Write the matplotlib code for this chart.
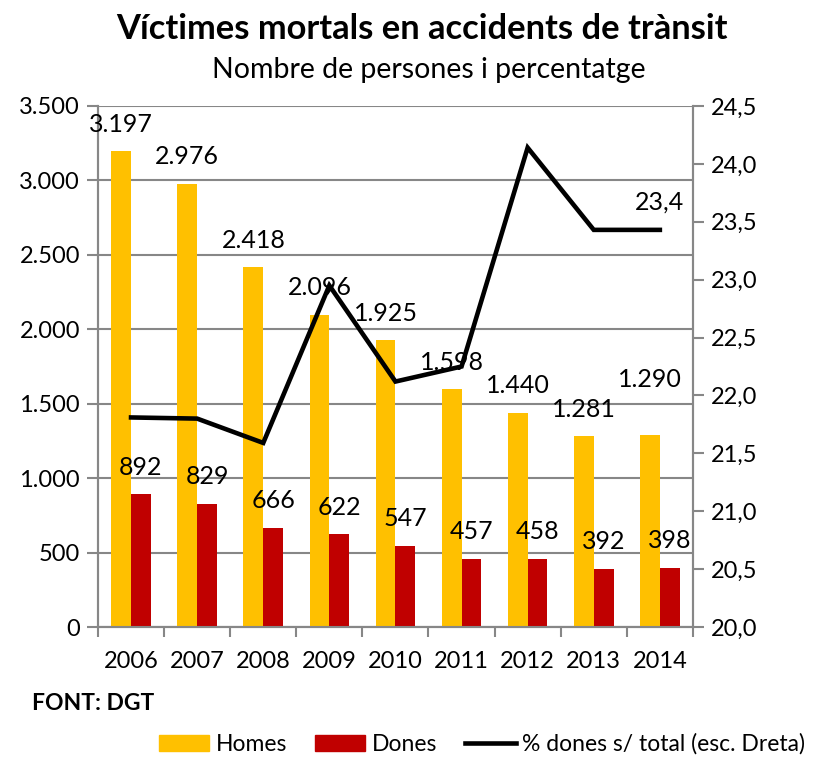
import matplotlib.pyplot as plt
from matplotlib.patches import Patch
from matplotlib.lines import Line2D
from matplotlib.ticker import FuncFormatter

plt.rcParams['font.family'] = ['Lato', 'DejaVu Sans']

years = ['2006', '2007', '2008', '2009', '2010', '2011', '2012', '2013', '2014']
homes = [3197, 2976, 2418, 2096, 1925, 1598, 1440, 1281, 1290]
dones = [892, 829, 666, 622, 547, 457, 458, 392, 398]
pct_dones = [21.81, 21.80, 21.59, 22.95, 22.12, 22.25, 24.14, 23.43, 23.43]
pct_label = '23,4'

col_homes = '#FFC000'
col_dones = '#C00000'
grid_col = '#878787'

fig = plt.figure(figsize=(8.2, 7.57), dpi=100)
ax = fig.add_axes([0.1195, 0.1717, 0.7255, 0.6883])
ax2 = ax.twinx()
ax.set_zorder(1)
ax.patch.set_visible(False)
ax2.set_zorder(0)

x = list(range(len(years)))
w = 0.3
ax.bar([i - w / 2 for i in x], homes, width=w, color=col_homes, zorder=2)
ax.bar([i + w / 2 for i in x], dones, width=w, color=col_dones, zorder=2)

ax.set_ylim(0, 3500)
ax.set_xlim(-0.5, len(years) - 0.5)
ax.set_yticks(range(0, 3501, 500))
ax.yaxis.set_major_formatter(FuncFormatter(lambda v, p: f'{int(v):,}'.replace(',', '.')))
ax.grid(axis='y', color=grid_col, linewidth=1.5, zorder=0)
ax.set_axisbelow(True)

# category ticks sit between groups, labels at centres
ax.set_xticks([i - 0.5 for i in range(len(years) + 1)])
ax.set_xticklabels([])
ax.set_xticks(x, minor=True)
ax.set_xticklabels(years, minor=True)
ax.tick_params(axis='x', which='major', length=7, width=1.5, color=grid_col)
ax.tick_params(axis='x', which='minor', length=0, pad=17, labelsize=17)
ax.tick_params(axis='y', length=8, width=1.5, color=grid_col, labelsize=17, pad=5)

for s in ['top']:
    ax.spines[s].set_visible(False)
    ax2.spines[s].set_visible(False)
for s in ['left', 'bottom', 'right']:
    ax.spines[s].set_color(grid_col)
    ax.spines[s].set_linewidth(1.5)
    ax2.spines[s].set_color(grid_col)
    ax2.spines[s].set_linewidth(1.5)

# right scale
ax2.set_ylim(20, 24.5)
ax2.set_yticks([20 + 0.5 * k for k in range(10)])
ax2.yaxis.set_major_formatter(FuncFormatter(lambda v, p: f'{v:.1f}'.replace('.', ',')))
ax2.tick_params(axis='y', length=8, width=1.5, color=grid_col, labelsize=17, pad=5)

# line drawn above the bars
line_ax = ax.twinx()
line_ax.set_zorder(3)
line_ax.set_ylim(20, 24.5)
line_ax.axis('off')
line_ax.plot(x, pct_dones, color='black', linewidth=3.3, solid_joinstyle='miter', zorder=5)

# value labels
for i, v in enumerate(homes):
    off = 55 if i == len(homes) - 1 else 27
    ax.annotate(f'{v:,}'.replace(',', '.'), (i - w / 2, v), xytext=(0, off),
                textcoords='offset pixels', ha='center', va='center', fontsize=18, zorder=6)
for i, v in enumerate(dones):
    ax.annotate(str(v), (i + w / 2, v), xytext=(0, 27), textcoords='offset pixels',
                ha='center', va='center', fontsize=18, zorder=6)
line_ax.annotate(pct_label, (x[-1], pct_dones[-1]), xytext=(0, 28), textcoords='offset pixels',
                 ha='center', va='center', fontsize=18, zorder=6)

fig.text(0.514, 0.962, 'Víctimes mortals en accidents de trànsit', ha='center', va='center',
         fontsize=24.8, fontweight='bold')
fig.text(0.523, 0.908, 'Nombre de persones i percentatge', ha='center', va='center', fontsize=20.5)
fig.text(0.039, 0.071, 'FONT: DGT', ha='left', va='center', fontsize=16.5, fontweight='bold')

handles = [Patch(color=col_homes), Patch(color=col_dones),
           Line2D([], [], color='black', linewidth=3.3)]
fig.legend(handles, ['Homes', 'Dones', '% dones s/ total (esc. Dreta)'], loc='center',
           bbox_to_anchor=(0.588, 0.017), ncol=3, frameon=False, fontsize=16.5,
           handlelength=2.2, handleheight=0.7, handletextpad=0.3, columnspacing=1.2,
           borderpad=0.2)

fig.savefig('out.png', dpi=100)
